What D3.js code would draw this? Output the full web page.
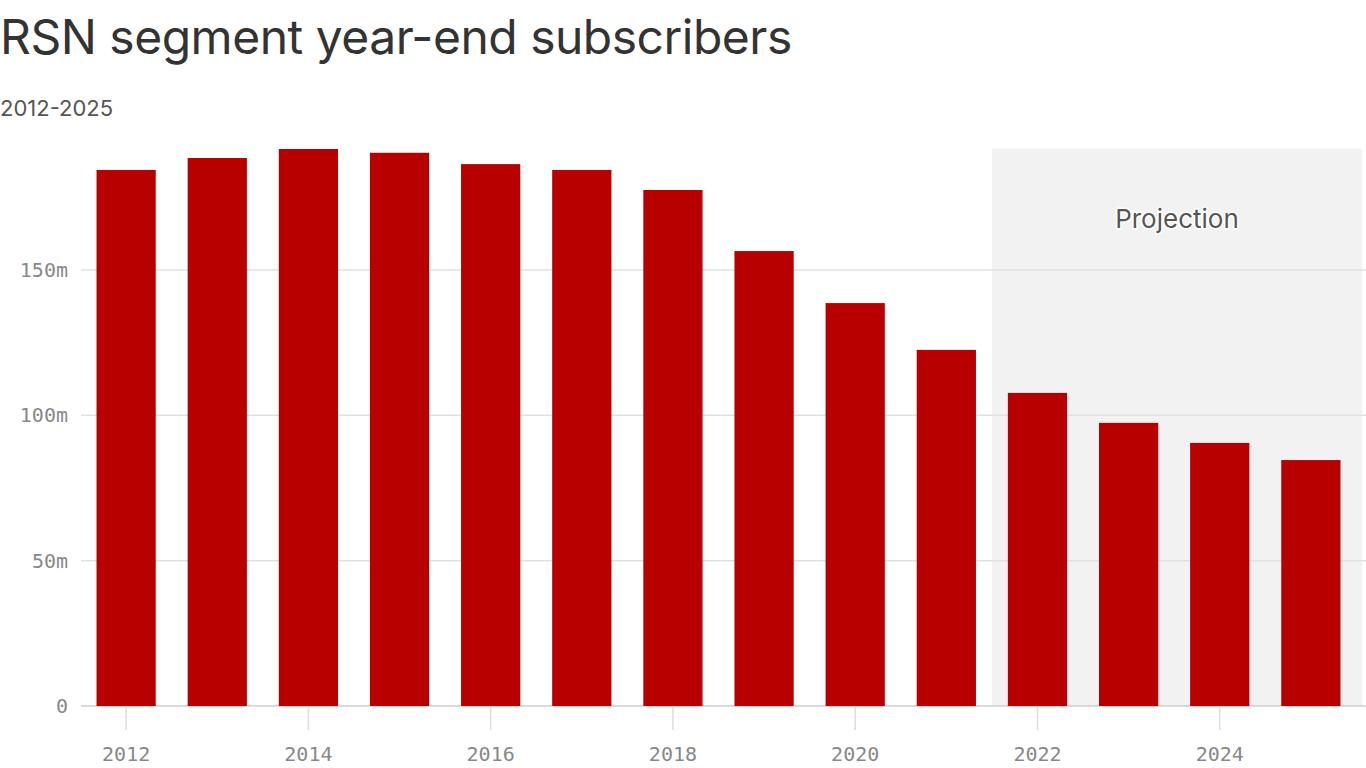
<!DOCTYPE html>
<html><head><meta charset="utf-8">
<script src="https://cdn.jsdelivr.net/npm/d3@7"></script>
<style>body{margin:0;background:#fff;}svg{display:block}</style>
</head><body>
<svg id="c" width="1366" height="768"></svg>
<script>
const years = [2012,2013,2014,2015,2016,2017,2018,2019,2020,2021,2022,2023,2024,2025];
const subscribers = [184.4,188.5,191.6,190.3,186.4,184.4,177.5,156.5,138.6,122.5,107.7,97.4,90.5,84.6];
const yTicks = [0,50,100,150];
const xTickYears = [2012,2014,2016,2018,2020,2022,2024];
const projectionStart = 2022;

const svg = d3.select("#c");
const mLeft = 71, mRight = 1366, mTop = 149, mBottom = 706;
const x = d3.scaleBand().domain(years).range([mLeft, mRight]).paddingInner(0.35).paddingOuter(0.28);
const y = d3.scaleLinear().domain([0, d3.max(subscribers)]).range([mBottom, mTop]);

svg.append("text").attr("x",0).attr("y",54).attr("font-family","Inter, 'Open Sans', sans-serif")
  .attr("font-size",48).attr("fill","#333").attr("letter-spacing","-0.5").text("RSN segment year-end subscribers");
svg.append("text").attr("x",0).attr("y",116).attr("font-family","Inter, 'Open Sans', sans-serif")
  .attr("font-size",22).attr("fill","#555").text("2012-2025");

const step = x.step();
const px0 = x(projectionStart) - (step - x.bandwidth())/2;
svg.append("rect").attr("x",px0).attr("y",mTop).attr("width",1362-px0).attr("height",mBottom-mTop).attr("fill","#f2f2f2");
svg.append("text").attr("x",(px0+1362)/2).attr("y",228).attr("text-anchor","middle")
  .attr("font-family","Inter, 'Open Sans', sans-serif").attr("font-size",26).attr("fill","#555")
  .attr("stroke","#fff").attr("stroke-width",3).attr("paint-order","stroke").text("Projection");

yTicks.forEach(t=>{
  svg.append("line").attr("x1",mLeft+10).attr("x2",1366).attr("y1",y(t)).attr("y2",y(t))
    .attr("stroke", t===0?"#ccc":"#e0e0e0").attr("stroke-width",1.5);
  svg.append("text").attr("x",68).attr("y",y(t)+7).attr("text-anchor","end")
    .attr("font-family","'DejaVu Sans Mono', monospace").attr("font-size",20).attr("fill","#888")
    .text(t===0?"0":t+"m");
});

svg.selectAll("rect.bar").data(years).enter().append("rect").attr("class","bar")
  .attr("x",d=>x(d)).attr("width",x.bandwidth())
  .attr("y",(d,i)=>y(subscribers[i])).attr("height",(d,i)=>mBottom-y(subscribers[i]))
  .attr("fill","#b80000");

xTickYears.forEach(yr=>{
  const cx = x(yr)+x.bandwidth()/2;
  svg.append("line").attr("x1",cx).attr("x2",cx).attr("y1",mBottom).attr("y2",730).attr("stroke","#ddd").attr("stroke-width",1.5);
  svg.append("text").attr("x",cx).attr("y",761).attr("text-anchor","middle")
    .attr("font-family","'DejaVu Sans Mono', monospace").attr("font-size",20).attr("fill","#888").text(yr);
});
</script>
</body></html>
